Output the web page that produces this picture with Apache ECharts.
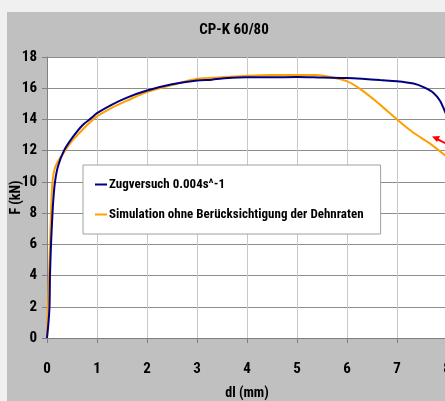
<!DOCTYPE html>
<html><head><meta charset="utf-8">
<script src="https://cdn.jsdelivr.net/npm/echarts@6/dist/echarts.min.js"></script>
<style>html,body{margin:0;padding:0;background:#f0f0f0;}#c{width:445px;height:401px;}</style>
</head><body><div id="c"></div>
<script>
const title = "CP-K 60/80";
const xName = "dl (mm)";
const yName = "F (kN)";
const seriesNames = ["Zugversuch 0.004s^-1", "Simulation ohne Berücksichtigung der Dehnraten"];
const xTicks = [0,1,2,3,4,5,6,7,8];
const yTicks = [0,2,4,6,8,10,12,14,16,18];
const zugversuch = [[0,0],[0.03,1],[0.05,2],[0.06,4],[0.08,6],[0.11,8],[0.13,9],[0.16,10],[0.22,11],[0.34,12],[0.5,12.8],[0.7,13.6],[0.89,14.1],[1.0,14.4],[1.3,14.95],[1.6,15.4],[2.0,15.85],[2.5,16.25],[3.0,16.5],[3.3,16.55],[3.5,16.62],[4.0,16.7],[4.5,16.7],[5.0,16.72],[5.5,16.68],[6.0,16.65],[6.3,16.6],[6.66,16.52],[7.0,16.45],[7.33,16.3],[7.53,16.07],[7.73,15.7],[7.86,15.2],[7.96,14.5],[8.0,14.2]];
const simulation = [[0,0],[0.02,2],[0.04,4],[0.06,6],[0.08,8],[0.11,10],[0.17,11],[0.36,12],[0.55,12.8],[0.96,14.1],[1.3,14.75],[1.6,15.2],[2.0,15.75],[2.5,16.2],[3.0,16.6],[3.5,16.7],[4.0,16.8],[4.5,16.85],[5.0,16.85],[5.39,16.85],[5.7,16.7],[6.0,16.45],[6.33,15.8],[6.66,14.95],[7.0,14.0],[7.33,13.15],[7.66,12.45],[8.0,11.6]];

const font = '"Roboto Condensed","Open Sans Condensed","Liberation Sans",sans-serif';
const chart = echarts.init(document.getElementById('c'));
chart.setOption({
  animation: false,
  backgroundColor: '#f0f0f0',
  graphic: [
    {type:'rect', z:-10, silent:true, shape:{x:7,y:12,width:450,height:400}, style:{fill:'#c0c0c0'}},
    {type:'line', z:100, shape:{x1:447,y1:144,x2:436,y2:138.5}, style:{stroke:'#ff0000', lineWidth:2}},
    {type:'polygon', z:100, shape:{points:[[432,136.5],[440,136],[437,142]]}, style:{fill:'#ff0000'}}
  ],
  title: {text:title, left:229, top:18, textAlign:'center',
    textStyle:{fontFamily:font, fontSize:15, fontWeight:'bold', color:'#000'}},
  grid: {left:47, top:57, width:400, height:281, show:true, backgroundColor:'#fff', borderWidth:0,
    outerBoundsMode:'none', containLabel:false},
  legend: {
    orient:'vertical', left:83, top:165,
    backgroundColor:'#fff', borderColor:'#a0a0a0', borderWidth:1,
    padding:[13,17,13,12], itemGap:17, itemWidth:12, itemHeight:2, icon:'rect',
    textStyle:{fontFamily:font, fontSize:13, fontWeight:'bold', color:'#000', padding:[0,0,0,-3]},
    data: seriesNames
  },
  xAxis: {type:'value', min:0, max:8, interval:1, name:xName, nameLocation:'middle', nameGap:48,
    nameMoveOverlap:false,
    nameTextStyle:{fontFamily:font, fontSize:14, fontWeight:'bold', color:'#000'},
    axisLine:{show:true, lineStyle:{color:'#808080'}},
    axisTick:{show:true, length:5, lineStyle:{color:'#808080'}},
    axisLabel:{fontFamily:font, fontSize:15, fontWeight:'bold', color:'#000', margin:24,
      formatter: v => xTicks.includes(v) ? String(v) : ''},
    splitLine:{show:true, lineStyle:{color:'#c8c8c8'}}},
  yAxis: {type:'value', min:0, max:18, interval:2, name:yName, nameLocation:'middle', nameGap:24,
    nameMoveOverlap:false,
    nameTextStyle:{fontFamily:font, fontSize:14, fontWeight:'bold', color:'#000'},
    axisLine:{show:true, lineStyle:{color:'#808080'}},
    axisTick:{show:true, length:5, lineStyle:{color:'#808080'}},
    axisLabel:{fontFamily:font, fontSize:15, fontWeight:'bold', color:'#000', margin:10,
      formatter: v => yTicks.includes(v) ? String(v) : ''},
    splitLine:{show:true, lineStyle:{color:'#8c8c8c'}}},
  series: [
    {name:seriesNames[0], type:'line', data:zugversuch, showSymbol:false, smooth:0.3, z:3,
      lineStyle:{color:'#000080', width:2}, itemStyle:{color:'#000080'}},
    {name:seriesNames[1], type:'line', data:simulation, showSymbol:false, smooth:0.3, z:2,
      lineStyle:{color:'#ffa000', width:2}, itemStyle:{color:'#ffa000'}}
  ]
});
</script></body></html>
